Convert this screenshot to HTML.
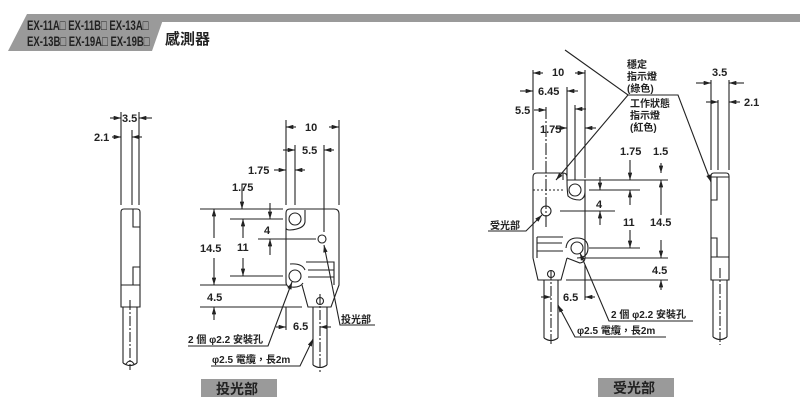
<!DOCTYPE html>
<html><head><meta charset="utf-8"><style>
body{margin:0;background:#fff;}
svg{display:block;font-family:"Liberation Sans","Noto Sans CJK TC",sans-serif;}
text{font-size:11px;font-weight:bold;fill:#222;}
</style></head><body>
<svg width="800" height="409" viewBox="0 0 800 409" xmlns="http://www.w3.org/2000/svg">
<defs>
<marker id="a" viewBox="0 0 10 6" refX="10" refY="3" markerWidth="7" markerHeight="4" orient="auto"><path d="M0,0L10,3L0,6z" fill="#222"/></marker>
</defs>
<!-- header -->
<polygon points="160,14 800,14 800,22 158,22" fill="#9a9a9a"/>
<polygon points="27,14 165,14 152,51 8,51" fill="#9a9a9a"/>
<g transform="translate(27,0) scale(0.68,1)">
<text x="0" y="30" style="font-size:14px">EX-11A□ EX-11B□ EX-13A□</text>
<text x="0" y="46" style="font-size:14px">EX-13B□ EX-19A□ EX-19B□</text>
</g>
<text x="165" y="44" style="font-size:15px">感測器</text>

<g stroke="#222" stroke-width="1.1" fill="none">
<!-- left side view -->
<line x1="121" y1="112" x2="121" y2="205"/><line x1="132" y1="130" x2="132" y2="205"/><line x1="139" y1="112" x2="139" y2="205"/>
<line x1="110" y1="118" x2="121" y2="118" marker-end="url(#a)"/><line x1="152" y1="118" x2="139" y2="118" marker-end="url(#a)"/>
<line x1="112" y1="137" x2="121" y2="137" marker-end="url(#a)"/><line x1="142" y1="137" x2="132" y2="137" marker-end="url(#a)"/>
<path d="M121,212 Q121,209 124,209 L137,209 Q140,209 140,212 L140,307 L121,307 Z"/>
<path d="M133,209 V227 H140 M133,285 V267 H140 M121,285 H140"/>
<path d="M123,307 V363 M137,307 V363"/><path d="M123,363 Q130,368 137,363 M126,364 Q130,358 134,364"/>
<line x1="130" y1="300" x2="130" y2="370" stroke-dasharray="10,2,2,2"/>

<!-- emitter front -->
<line x1="286" y1="120" x2="286" y2="205"/><line x1="339" y1="120" x2="339" y2="205"/>
<line x1="296" y1="127" x2="286" y2="127" marker-end="url(#a)"/><line x1="329" y1="127" x2="339" y2="127" marker-end="url(#a)"/>
<line x1="295" y1="145" x2="295" y2="205"/><line x1="324" y1="145" x2="324" y2="232"/>
<line x1="283" y1="150" x2="295" y2="150" marker-end="url(#a)"/><line x1="334" y1="150" x2="324" y2="150" marker-end="url(#a)"/>
<line x1="274" y1="170" x2="286" y2="170" marker-end="url(#a)"/><line x1="305" y1="170" x2="295" y2="170" marker-end="url(#a)"/>
<path d="M290,209 L334,209 Q339,209 339,214 L339,285 L331,307 L308,307 L302,285"/>
<path d="M290,209 Q286,209 286,213 L286,282 Q286,287 291,287 Q300,288 303,283"/>
<path d="M305,210 L305,222 Q304,229 290,230 Q286,230 286,228"/>
<circle cx="295" cy="219" r="6"/><circle cx="295" cy="276" r="6"/><circle cx="322" cy="239" r="4"/>
<path d="M305,270 Q302,263 290,264"/>
<path d="M306,262 H334 V285 M308,270 H334 M308,277 H334"/>
<line x1="286" y1="307" x2="286" y2="330"/>
<path d="M313,307 V365 M327,307 V365"/><path d="M313,365 Q320,370 327,365"/>
<line x1="320" y1="294" x2="320" y2="372" stroke-dasharray="10,2,2,2"/><circle cx="320" cy="301" r="3.5"/>
<path d="M200,209 H283 M230,219 H283 M258,239 H316 M230,276 H283 M200,285 H286 M200,307 H302"/>
<line x1="242" y1="184" x2="242" y2="209" marker-end="url(#a)"/>
<line x1="214" y1="238" x2="214" y2="209" marker-end="url(#a)"/><line x1="214" y1="258" x2="214" y2="285" marker-end="url(#a)"/>
<line x1="243" y1="238" x2="243" y2="219" marker-end="url(#a)"/><line x1="243" y1="258" x2="243" y2="276" marker-end="url(#a)"/>
<line x1="270" y1="203" x2="270" y2="219" marker-end="url(#a)"/><line x1="270" y1="255" x2="270" y2="239" marker-end="url(#a)"/>
<line x1="214" y1="320" x2="214" y2="307" marker-end="url(#a)"/>
<line x1="276" y1="327" x2="286" y2="327" marker-end="url(#a)"/><line x1="331" y1="327" x2="320" y2="327" marker-end="url(#a)"/>
<path d="M188,346 H268 L292,282" marker-end="url(#a)"/>
<path d="M211,366 H300 L313,339" marker-end="url(#a)"/>
<path d="M375,325 H340 L324,245" marker-end="url(#a)"/>

<!-- receiver front -->
<line x1="533" y1="70" x2="533" y2="170"/><line x1="585" y1="70" x2="585" y2="178"/>
<line x1="567" y1="87" x2="567" y2="178"/><line x1="575" y1="105" x2="575" y2="180"/>
<line x1="546" y1="107" x2="546" y2="228" stroke-dasharray="12,2,2,2"/>
<line x1="543" y1="73" x2="533" y2="73" marker-end="url(#a)"/><line x1="575" y1="73" x2="585" y2="73" marker-end="url(#a)"/>
<line x1="520" y1="91" x2="533" y2="91" marker-end="url(#a)"/><line x1="578" y1="91" x2="567" y2="91" marker-end="url(#a)"/>
<line x1="534" y1="110" x2="546" y2="110" marker-end="url(#a)"/><line x1="586" y1="109" x2="575" y2="109" marker-end="url(#a)"/>
<line x1="555" y1="128" x2="567" y2="128" marker-end="url(#a)"/><line x1="596" y1="128" x2="585" y2="128" marker-end="url(#a)"/>
<path d="M537,173 L563,173 Q567,173 567,177 L567,180 L660,180 M533,258 L533,177 Q533,173 537,173"/>
<path d="M533,258 L538,280 L561,280 L567,258"/>
<path d="M585,180 L585,258 Q585,262 580,263 L567,258 M567,180 Q567,190 568,196 Q572,200 580,200 Q585,198 585,192"/>
<path d="M533,190 H563" stroke-dasharray="2,2"/><path d="M563,173 V180"/>
<circle cx="575" cy="190" r="6"/><circle cx="577" cy="248" r="6"/><circle cx="546" cy="211" r="5"/>
<path d="M566,248 Q567,238 577,238 Q588,238 588,248 Q588,258 577,258"/>
<path d="M537,237 H563 M537,243 H562 M537,251 H563 M537,237 V258"/>
<path d="M544,280 V338 M558,280 V338"/><path d="M544,338 Q551,343 558,338"/>
<line x1="551" y1="270" x2="551" y2="345" stroke-dasharray="10,2,2,2"/><circle cx="551" cy="274" r="3.5"/>
<path d="M588,180 H668 M589,190 H640 M560,211 H615 M589,248 H640 M585,258 H668 M566,280 H668 M585,265 V300"/>
<line x1="630" y1="160" x2="630" y2="180" marker-end="url(#a)"/>
<line x1="600" y1="177" x2="600" y2="190" marker-end="url(#a)"/><line x1="600" y1="225" x2="600" y2="211" marker-end="url(#a)"/>
<line x1="630" y1="205" x2="630" y2="190" marker-end="url(#a)"/><line x1="630" y1="230" x2="630" y2="248" marker-end="url(#a)"/>
<line x1="661" y1="163" x2="661" y2="173" marker-end="url(#a)"/><line x1="661" y1="215" x2="661" y2="180" marker-end="url(#a)"/>
<line x1="661" y1="240" x2="661" y2="258" marker-end="url(#a)"/><line x1="661" y1="290" x2="661" y2="280" marker-end="url(#a)"/>
<line x1="541" y1="297" x2="551" y2="297" marker-end="url(#a)"/><line x1="595" y1="297" x2="585" y2="297" marker-end="url(#a)"/>
<path d="M488,231 H526 L542,215" marker-end="url(#a)"/>
<path d="M693,321 H609 L580,253" marker-end="url(#a)"/>
<path d="M666,337 H575 L558,305" marker-end="url(#a)"/>
<path d="M565,50 L628,95 H678 L711,182" marker-end="url(#a)"/>
<line x1="628" y1="95" x2="556" y2="180" marker-end="url(#a)"/>

<!-- receiver side -->
<line x1="711" y1="80" x2="711" y2="170"/><line x1="718" y1="100" x2="718" y2="170"/><line x1="729" y1="80" x2="729" y2="170"/>
<line x1="696" y1="83" x2="711" y2="83" marker-end="url(#a)"/><line x1="744" y1="83" x2="729" y2="83" marker-end="url(#a)"/>
<line x1="706" y1="102" x2="718" y2="102" marker-end="url(#a)"/><line x1="740" y1="102" x2="729" y2="102" marker-end="url(#a)"/>
<path d="M711,176 Q711,173 714,173 L726,173 Q729,173 729,176 L729,280 L711,280 Z"/>
<path d="M711,177 H729 M711,200 H717 V177 M711,238 H717 V257 M711,257 H729"/>
<path d="M713,280 V337 M727,280 V337"/><path d="M713,337 Q720,342 727,337"/>
<line x1="720" y1="268" x2="720" y2="345" stroke-dasharray="10,2,2,2"/>
</g>

<!-- labels -->
<text x="122" y="122">3.5</text><text x="94" y="141">2.1</text>
<text x="305" y="131">10</text><text x="302" y="154">5.5</text><text x="248" y="174">1.75</text><text x="232" y="191">1.75</text>
<text x="264" y="234">4</text><text x="237" y="251">11</text><text x="200" y="252">14.5</text><text x="207" y="301">4.5</text>
<text x="293" y="330">6.5</text>
<text x="188" y="343" style="font-size:10px">2 個 φ2.2 安裝孔</text>
<text x="212" y="363" style="font-size:10px">φ2.5 電纜，長2m</text>
<text x="341" y="323" style="font-size:10px">投光部</text>
<rect x="201" y="379" width="76" height="18" fill="#9a9a9a"/>
<text x="216" y="394" style="font-size:14px">投光部</text>

<text x="552" y="76">10</text><text x="538" y="95">6.45</text><text x="515" y="114">5.5</text><text x="540" y="133">1.75</text>
<text x="627" y="68" style="font-size:10px">穩定</text><text x="627" y="80" style="font-size:10px">指示燈</text><text x="627" y="92" style="font-size:10px">(綠色)</text>
<text x="630" y="107" style="font-size:10px">工作狀態</text><text x="630" y="119" style="font-size:10px">指示燈</text><text x="630" y="131" style="font-size:10px">(紅色)</text>
<text x="620" y="155">1.75</text><text x="653" y="155">1.5</text>
<text x="596" y="208">4</text><text x="623" y="226">11</text><text x="650" y="226">14.5</text><text x="652" y="274">4.5</text>
<text x="563" y="301">6.5</text>
<text x="490" y="229" style="font-size:10px">受光部</text>
<text x="611" y="318" style="font-size:10px">2 個 φ2.2 安裝孔</text>
<text x="577" y="334" style="font-size:10px">φ2.5 電纜，長2m</text>
<text x="712" y="76">3.5</text><text x="744" y="106">2.1</text>
<rect x="598" y="378" width="76" height="19" fill="#9a9a9a"/>
<text x="613" y="393" style="font-size:14px">受光部</text>
</svg>
</body></html>
